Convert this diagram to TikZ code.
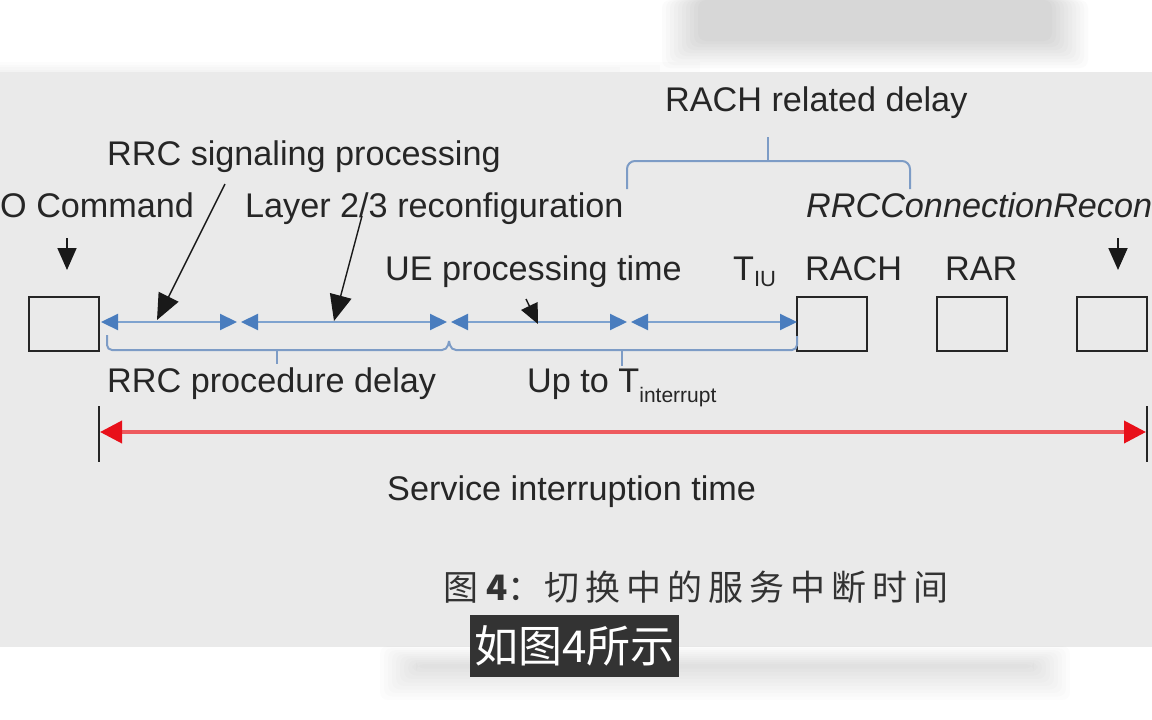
\documentclass[tikz,border=0pt]{standalone}
\usepackage{fontspec}
\setmainfont{Liberation Sans}
\newfontfamily\cjk{Noto Sans CJK SC}
\usetikzlibrary{arrows.meta}
\definecolor{panel}{HTML}{EAEAEA}
\definecolor{bluel}{HTML}{7FA3CF}
\definecolor{blued}{HTML}{4A7DBE}
\definecolor{bracec}{HTML}{7D9CC6}
\definecolor{redl}{HTML}{EE5A5E}
\definecolor{redd}{HTML}{E8101A}
\definecolor{txt}{HTML}{262626}
\definecolor{subbg}{HTML}{333333}
\begin{document}
\begin{tikzpicture}[x=1pt,y=-1pt,
  lbl/.style={anchor=base west, inner sep=0pt, font=\fontsize{34.2}{40}\selectfont, text=txt},
  msgbox/.style={draw=black!85, line width=1.8pt, minimum width=70pt, minimum height=54pt, inner sep=0pt},
  seg/.style={draw=bluel, line width=2.2pt,
    {Triangle[length=17pt,width=16pt,color=blued]}-{Triangle[length=17pt,width=16pt,color=blued]}},
  brc/.style={draw=bracec, line width=2pt, rounded corners=5pt},
  ptr/.style={draw=black!90, line width=1.4pt, -{Triangle[length=26pt,width=22pt]}},
  down/.style={draw=black!90, line width=1.8pt, -{Triangle[length=22pt,width=19pt]}},
  tick/.style={draw=black!85, line width=1.6pt},
  redarr/.style={draw=redl, line width=3.8pt,
    {Triangle[length=22pt,width=22pt,color=redd]}-{Triangle[length=22pt,width=22pt,color=redd]}}
]
\useasboundingbox (0,0) rectangle (1152,720);
% backgrounds
\fill[white] (0,0) rectangle (1152,720);
\foreach \i in {0,...,9}{
  \fill[black, opacity=0.014, rounded corners=8pt] (662+\i*4,0) rectangle (1088-\i*4,68-\i*3);
}
\foreach \i in {0,...,3}{
  \fill[black, opacity=0.01] (0,62+\i*2.5) rectangle (700-\i*40,72);
}
\fill[panel] (0,72) rectangle (1152,647);
\foreach \i in {0,...,9}{
  \fill[black, opacity=0.012, rounded corners=8pt] (380+\i*4,646+\i*2) rectangle (1070-\i*4,700-\i*3.5);
}

% message boxes
\node[msgbox] (ho) at (64,324) {};
\node[msgbox] (rach) at (832,324) {};
\node[msgbox] (rar) at (972,324) {};
\node[msgbox] (rrc) at (1112,324) {};

% labels
\node[lbl] (lho) at (0,217) {O Command};
\node[lbl] (lsig) at (107,165) {RRC signaling processing};
\node[lbl] (ll23) at (245,217) {Layer 2/3 reconfiguration};
\node[lbl] (lue) at (385,280) {UE processing time};
\node[lbl] (ltiu) at (733,280) {T\raisebox{-0.35ex}{\fontsize{22}{24}\selectfont IU}};
\node[lbl] (lrach) at (805,280) {RACH};
\node[lbl] (lrar) at (945,280) {RAR};
\node[lbl, font=\fontsize{34.2}{40}\selectfont\itshape] (lrrc) at (806,217) {RRCConnectionRecon};
\node[lbl] (lrel) at (665,111) {RACH related delay};
\node[lbl] (lproc) at (107,392) {RRC procedure delay};
\node[lbl] (lup) at (527,392) {Up to T\raisebox{-0.6ex}{\fontsize{21}{24}\selectfont interrupt}};
\node[lbl] (lsit) at (387,500) {Service interruption time};
\node[lbl, font=\cjk\fontsize{35}{40}\selectfont, text=black!80] (cap) at (443,600) {图\hspace{8pt}\textbf{4}：\hspace{2pt}切\hspace{6pt}换\hspace{6pt}中\hspace{6pt}的\hspace{6pt}服\hspace{6pt}务\hspace{6pt}中\hspace{6pt}断\hspace{6pt}时\hspace{6pt}间};

% subtitle
\node[fill=subbg, text=white, font=\cjk\fontsize{44}{48}\selectfont, inner xsep=4pt, inner ysep=11pt, anchor=west] (sub) at (470,646) {如图4所示};

% down arrows
\coordinate (dho) at (67,238);
\coordinate (dhoe) at (67,270);
\coordinate (drrc) at (1118,238);
\coordinate (drrce) at (1118,270);
\draw[down] (dho) -- (dhoe);
\draw[down] (drrc) -- (drrce);

% blue segments
\coordinate (s0) at (101,322);
\coordinate (s1) at (239,322);
\coordinate (s2) at (449,322);
\coordinate (s3) at (629,322);
\coordinate (s4) at (797,322);
\draw[seg, shorten >=2pt] (s0) -- (s1);
\draw[seg, shorten <=2pt, shorten >=2pt] (s1) -- (s2);
\draw[seg, shorten <=2pt, shorten >=2pt] (s2) -- (s3);
\draw[seg, shorten <=2pt] (s3) -- (s4);

% pointers
\coordinate (p1s) at (225,184);
\coordinate (p1e) at (157,320);
\draw[ptr] (p1s) -- (p1e);
\coordinate (p2s) at (362,216);
\coordinate (p2e) at (334,321);
\draw[ptr] (p2s) -- (p2e);
\coordinate (p3s) at (526,299);
\coordinate (p3e) at (538,324);
\draw[draw=black!90, line width=1.4pt, -{Triangle[length=20pt,width=18pt]}] (p3s) -- (p3e);

% lower braces
\draw[brc] (107,335) -- (107,350) -- (447,350) -- (449,341);
\draw[brc, rounded corners=0pt] (277,350) -- (277,364);
\draw[brc] (449,341) -- (451,350) -- (797,350) -- (797,336);
\draw[brc, rounded corners=0pt] (622,350) -- (622,366);

% upper brace
\draw[brc, rounded corners=8pt] (627,189) -- (627,161) -- (910,161) -- (910,189);
\draw[brc, rounded corners=0pt] (768,161) -- (768,137);

% service interruption
\coordinate (t1) at (99,432);
\coordinate (t2) at (1147,432);
\draw[tick] (99,406) -- (99,462);
\draw[tick] (1147,406) -- (1147,462);
\draw[redarr, shorten <=1pt, shorten >=1pt] (t1) -- (t2);
\end{tikzpicture}
\end{document}
